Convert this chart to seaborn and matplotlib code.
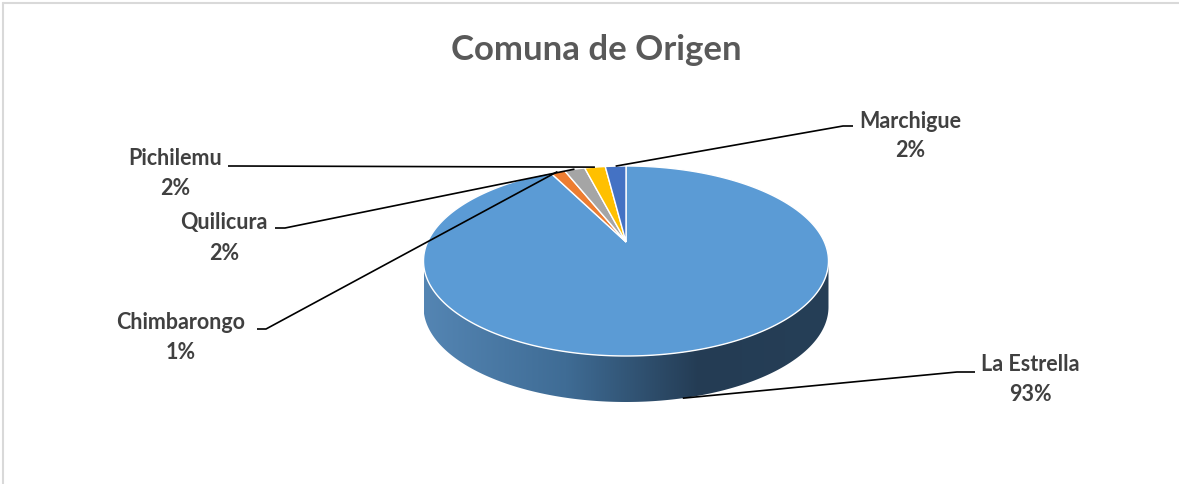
import numpy as np
import matplotlib
matplotlib.use("Agg")
import matplotlib.pyplot as plt
import seaborn as sns
from matplotlib.patches import Polygon
from matplotlib.colors import LinearSegmentedColormap

# data (shares in %)
comunas = ["La Estrella", "Chimbarongo", "Quilicura", "Pichilemu", "Marchigue"]
valores = [92.6, 1.4, 2.0, 2.0, 2.0]
colores = ["#5B9BD5", "#ED7D31", "#A5A5A5", "#FFC000", "#4472C4"]
titulo = "Comuna de Origen"

sns.set_theme(style="white")
plt.rcParams["font.family"] = ["Lato", "DejaVu Sans"]

fig = plt.figure(figsize=(11.79, 4.85), dpi=100)
ax = fig.add_axes([0, 0, 1, 1])

# pie geometry (pixel space, perspective tilt)
cx, cy = 626, 243
a0, b0, k = 198.4, 91.2, 0.2
h = 46


def rim(theta, dy=0):
    u, v = np.sin(theta), np.cos(theta)
    d = 1 + k * v
    return cx + a0 * u / d, cy - b0 * v / d + dy


total = sum(valores)
fr = np.array(valores) / total
ends = np.cumsum(fr) * 2 * np.pi
starts = ends - fr * 2 * np.pi

# side wall (front part only), shaded with a clipped gradient
th_r = np.arctan2(np.sqrt(1 - k**2), -k)
th_l = 2 * np.pi - th_r
ths = np.linspace(th_r, th_l, 300)
xs, ys = rim(ths)
wall = list(zip(xs, ys)) + list(zip(xs[::-1], ys[::-1] + h))
wall_patch = Polygon(wall, closed=True, facecolor="none", edgecolor="none")
ax.add_patch(wall_patch)
cmap = LinearSegmentedColormap.from_list(
    "wall", [(0, "#5485B3"), (0.35, "#3F6C95"), (0.68, "#243C54"), (1, "#263F57")])
grad = np.linspace(0, 1, 256).reshape(1, -1)
im = ax.imshow(grad, cmap=cmap, aspect="auto", interpolation="bilinear",
               extent=[xs.min(), xs.max(), ys.max() + h, ys.min()])
im.set_clip_path(wall_patch)
ax.set_xlim(0, 1179)
ax.set_ylim(485, 0)
ax.axis("off")

# top face
for s, e, c in zip(starts, ends, colores):
    tt = np.linspace(s, e, max(int((e - s) * 80), 4))
    px, py = rim(tt)
    pts = [(cx, cy)] + list(zip(px, py))
    ax.add_patch(Polygon(pts, closed=True, facecolor=c, edgecolor="white", linewidth=1.0))

# labels with leader lines
lab_pos = {
    "La Estrella": ((1030, 365), [(975, 373), (957, 373)]),
    "Chimbarongo": ((181, 323), [(257, 330), (266, 330)]),
    "Quilicura": ((224, 223), [(275, 229), (285, 229)]),
    "Pichilemu": ((175, 159), [(228, 167), (236, 167)]),
    "Marchigue": ((910, 121), [(853, 127), (843, 127)]),
}
for nom, s, e, f in zip(comunas, starts, ends, fr):
    mid = (s + e) / 2
    axx, ayy = rim(mid)
    if np.cos(mid) < -k:
        ayy += h
    (tx, ty), pts = lab_pos[nom]
    lx = [p[0] for p in pts] + [axx]
    ly = [p[1] for p in pts] + [ayy]
    ax.plot(lx, ly, color="black", linewidth=1.2, solid_capstyle="butt")
    ax.text(tx, ty, nom, ha="center", va="center", fontsize=15.5, fontweight="bold",
            color="#404040")
    ax.text(tx, ty + 30, f"{round(f * 100)}%", ha="center", va="center", fontsize=15.5,
            fontweight="bold", color="#404040")

ax.text(596, 50, titulo, ha="center", va="center", fontsize=25, fontweight="bold",
        color="#595959")

# chart area border
ax.plot([3, 1179], [4, 4], color="#D9D9D9", linewidth=1.5)
ax.plot([3, 3], [4, 485], color="#D9D9D9", linewidth=1.5)

fig.savefig("out.png", dpi=100, facecolor="white")
